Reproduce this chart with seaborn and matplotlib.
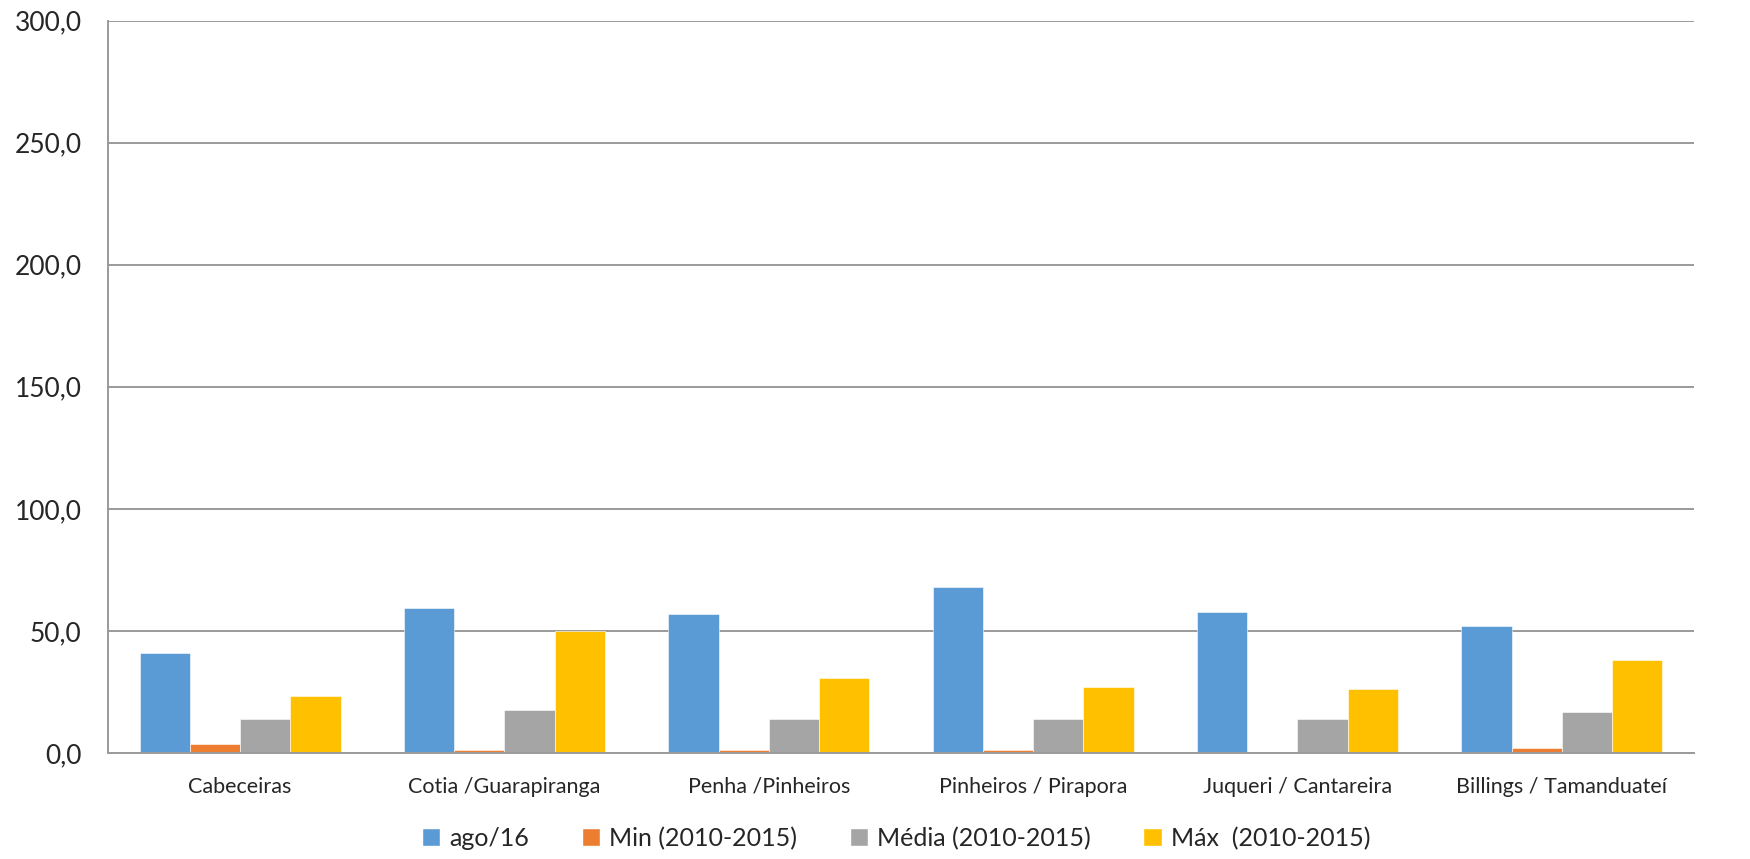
import matplotlib.pyplot as plt
import matplotlib.ticker as mticker
from matplotlib.patches import Patch
import seaborn as sns
import pandas as pd

# Dados por sub-bacia
categorias = ["Cabeceiras", "Cotia /Guarapiranga", "Penha /Pinheiros",
              "Pinheiros / Pirapora", "Juqueri / Cantareira", "Billings / Tamanduateí"]
ago16 = [41.0, 59.5, 56.8, 67.9, 57.7, 52.2]
minimo = [3.8, 1.1, 1.1, 1.1, 0.0, 1.9]
media = [14.0, 17.7, 14.0, 14.0, 14.0, 16.8]
maximo = [23.3, 50.1, 30.7, 27.0, 26.3, 38.2]
series = ["ago/16", "Min (2010-2015)", "Média (2010-2015)", "Máx  (2010-2015)"]
cores = ["#5B9BD5", "#ED7D31", "#A5A5A5", "#FFC000"]

df = pd.DataFrame({"Categoria": categorias, series[0]: ago16, series[1]: minimo,
                   series[2]: media, series[3]: maximo})
df = df.melt(id_vars="Categoria", var_name="Serie", value_name="Valor")

sns.set_style("white")
plt.rcParams['font.family'] = ['Lato', 'DejaVu Sans']

fig = plt.figure(figsize=(17.5, 8.59), dpi=100)
ax = fig.add_axes([0.0617, 0.1234, 0.9063, 0.8526])

sns.barplot(data=df, x="Categoria", y="Valor", hue="Serie", hue_order=series,
            palette=cores, width=0.76, edgecolor="white", linewidth=0.4,
            saturation=1, ax=ax, legend=False)

ax.set_ylim(0, 300)
ax.set_xlim(-0.5, len(categorias) - 0.5)
ax.yaxis.set_major_locator(mticker.MultipleLocator(50))
ax.yaxis.set_major_formatter(mticker.FuncFormatter(lambda v, p: f"{v:.1f}".replace(".", ",")))
ax.grid(axis="y", color="#9a9a9a", linewidth=1.4)
ax.set_axisbelow(True)

for s in ["top", "right"]:
    ax.spines[s].set_visible(False)
for s in ["left", "bottom"]:
    ax.spines[s].set_color("#9a9a9a")
    ax.spines[s].set_linewidth(1.4)

ax.set_xlabel("")
ax.set_ylabel("")
ax.tick_params(axis="y", labelsize=19, labelcolor="#262626", length=7,
               color="#9a9a9a", width=1.4, pad=12)
ax.tick_params(axis="x", which="major", labelsize=15.5, labelcolor="#262626",
               length=0, pad=17)
ax.set_xticks([i + 0.5 for i in range(-1, len(categorias))], minor=True)
ax.tick_params(axis="x", which="minor", length=8, color="#9a9a9a", width=1.4)

handles = [Patch(facecolor=c, label=s) for c, s in zip(cores, series)]
fig.legend(handles=handles, loc="center", bbox_to_anchor=(0.512, 0.024),
           ncol=4, frameon=False, fontsize=18, handlelength=0.75, handleheight=0.75,
           handletextpad=0.35, columnspacing=2.1, labelcolor="#262626")

plt.savefig("out.png", dpi=100)
